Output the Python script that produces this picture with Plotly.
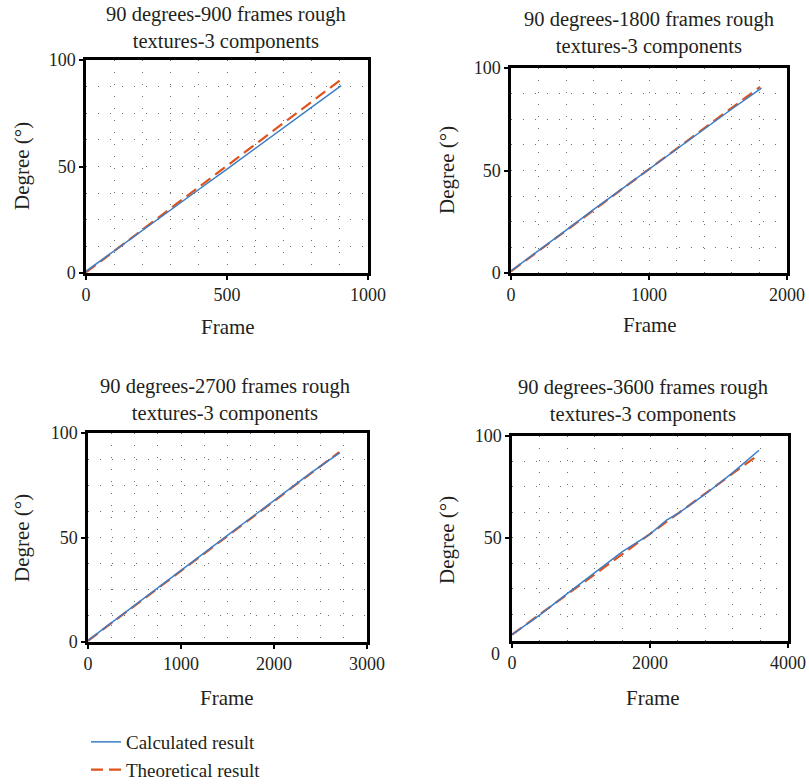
import plotly.graph_objects as go

W, H = 809, 784

# ---------------- data ----------------
titles = [
    "90 degrees-900 frames rough<br>textures-3 components",
    "90 degrees-1800 frames rough<br>textures-3 components",
    "90 degrees-2700 frames rough<br>textures-3 components",
    "90 degrees-3600 frames rough<br>textures-3 components",
]

calc_frames_900 = [0, 100, 200, 300, 400, 500, 600, 700, 800, 905]
calc_deg_900 = [0.8, 10.5, 20.0, 29.6, 39.2, 48.8, 58.4, 68.0, 77.8, 88.0]
theo_frames_900 = [0, 900]
theo_deg_900 = [0.3, 90.4]

calc_frames_1800 = [0, 200, 400, 600, 800, 1000, 1200, 1400, 1600, 1815]
calc_deg_1800 = [1.0, 10.8, 20.9, 31.0, 40.8, 50.6, 60.8, 70.6, 80.0, 90.2]
theo_frames_1800 = [0, 1805]
theo_deg_1800 = [0.8, 90.8]

calc_frames_2700 = [0, 300, 600, 900, 1200, 1500, 1800, 2100, 2400, 2710]
calc_deg_2700 = [0.8, 10.9, 21.0, 31.2, 41.2, 51.0, 61.0, 71.0, 81.0, 90.6]
theo_frames_2700 = [0, 2700]
theo_deg_2700 = [0.6, 90.8]

calc_frames_3600 = [0, 400, 800, 1200, 1600, 2000, 2240, 2400, 2800, 3200, 3580]
calc_deg_3600 = [2.4, 12.0, 22.6, 33.0, 43.2, 51.8, 58.7, 61.8, 71.4, 82.0, 93.0]
theo_frames_3600 = [0, 3560]
theo_deg_3600 = [2.4, 90.5]

x_max = [1000, 2000, 3000, 4000]
x_major = [500, 1000, 1000, 2000]
x_minor = [100, 200, 250, 400]
y_min = [0, 0, 0, -0.7]

calc_name = "Calculated result"
theo_name = "Theoretical result"

# ---------------- styling / layout ----------------
FONT = "Liberation Serif"
TXT = "#231f20"
BLUE = "#3b7dc6"
RED = "#e0521c"
GRID = "#707070"

# panel boxes in pixels: (left, right, top, bottom)
boxes = [(86, 368, 60, 273), (511, 787, 68, 273), (88, 367, 433, 642), (512, 788, 436, 641)]
title_pos = [(226, 28), (649, 33), (225, 400), (643, 401)]
xtitle_pos = [(228, 327), (650, 325), (227, 698), (653, 698)]
ytitle_pos = [(22, 166), (447, 170), (22, 538), (447, 540)]

calc_sets = [(calc_frames_900, calc_deg_900), (calc_frames_1800, calc_deg_1800),
             (calc_frames_2700, calc_deg_2700), (calc_frames_3600, calc_deg_3600)]
theo_sets = [(theo_frames_900, theo_deg_900), (theo_frames_1800, theo_deg_1800),
             (theo_frames_2700, theo_deg_2700), (theo_frames_3600, theo_deg_3600)]

fig = go.Figure()
layout = {}
annotations = []

for i in range(4):
    sfx = "" if i == 0 else str(i + 1)
    l, r, t, b = boxes[i]
    xa = "x" + sfx
    ya = "y" + sfx
    cf, cd = calc_sets[i]
    tf, td = theo_sets[i]
    fig.add_trace(go.Scatter(x=tf, y=td, mode="lines", name=theo_name,
                             line=dict(color=RED, width=2.2, dash="12px,6px"),
                             xaxis=xa, yaxis=ya, showlegend=(i == 0), legendrank=2))
    fig.add_trace(go.Scatter(x=cf, y=cd, mode="lines", name=calc_name,
                             line=dict(color=BLUE, width=1.5),
                             xaxis=xa, yaxis=ya, showlegend=(i == 0), legendrank=1))

    yticks = [0, 50, 100] if i < 3 else [50, 100]
    common = dict(showline=True, linecolor="black", linewidth=2.5, mirror=True,
                  ticks="outside", ticklen=4, tickwidth=1.5, tickcolor="black",
                  zeroline=False, showgrid=True, gridcolor=GRID, gridwidth=1,
                  griddash="1px,11px", automargin=False,
                  tickfont=dict(family=FONT, size=18, color=TXT))
    layout["xaxis" + sfx] = dict(
        domain=[l / W, r / W], anchor=ya, range=[0, x_max[i]],
        tick0=0, dtick=x_major[i],
        minor=dict(dtick=x_minor[i], tick0=0, showgrid=True, gridcolor=GRID,
                   gridwidth=1, griddash="1px,11px", ticks=""),
        **common)
    layout["yaxis" + sfx] = dict(
        domain=[1 - b / H, 1 - t / H], anchor=xa, range=[y_min[i], 100],
        tickmode="array", tickvals=yticks,
        minor=dict(tickmode="array", tickvals=[12.5, 25, 37.5, 62.5, 75, 87.5],
                   showgrid=True, gridcolor=GRID, gridwidth=1,
                   griddash="1px,11px", ticks=""),
        **common)

    tx, ty = title_pos[i]
    annotations.append(dict(text=titles[i], x=tx / W, y=1 - ty / H, xref="paper", yref="paper",
                            xanchor="center", yanchor="middle", showarrow=False,
                            font=dict(family=FONT, size=20.5, color=TXT)))
    fx, fy = xtitle_pos[i]
    annotations.append(dict(text="Frame", x=fx / W, y=1 - fy / H, xref="paper", yref="paper",
                            xanchor="center", yanchor="middle", showarrow=False,
                            font=dict(family=FONT, size=21, color=TXT)))
    gx, gy = ytitle_pos[i]
    annotations.append(dict(text="Degree (°)", x=gx / W, y=1 - gy / H, xref="paper", yref="paper",
                            xanchor="center", yanchor="middle", showarrow=False, textangle=-90,
                            font=dict(family=FONT, size=21, color=TXT)))

# the displaced "0" label of the last panel's y axis
annotations.append(dict(text="0", x=496 / W, y=1 - 654 / H, xref="paper", yref="paper",
                        xanchor="center", yanchor="middle", showarrow=False,
                        font=dict(family=FONT, size=18, color=TXT)))

fig.update_layout(
    width=W, height=H,
    margin=dict(l=0, r=0, t=0, b=0, autoexpand=False),
    paper_bgcolor="white", plot_bgcolor="white",
    font=dict(family=FONT, color=TXT),
    annotations=annotations,
    legend=dict(x=86 / W, y=1 - 723 / H, xanchor="left", yanchor="top",
                font=dict(family=FONT, size=19, color=TXT),
                bgcolor="rgba(0,0,0,0)", tracegroupgap=0, itemwidth=30),
    **layout,
)

fig.write_html("out.html", config={"displayModeBar": False},
               post_script="document.body.style.margin='0';")
